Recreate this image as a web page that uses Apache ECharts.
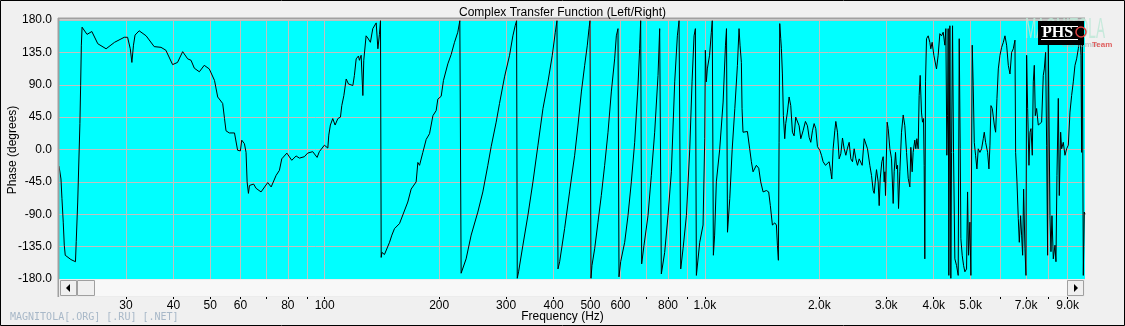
<!DOCTYPE html>
<html>
<head>
<meta charset="utf-8">
<script src="https://cdn.jsdelivr.net/npm/echarts@6/dist/echarts.min.js"></script>
<style>
html,body{margin:0;padding:0;background:#f0f0f0;}
#chart{width:1125px;height:326px;}
</style>
</head>
<body>
<div id="chart"></div>
<script>
// ---- data (frequency in Hz, phase in degrees) ----
const freqBass = [20.0,20.24,20.36,20.52,20.65,20.77,21.5,22.1,22.2,22.4,22.7,22.8,22.9,23.0,23.7,24.4,25.3,26.6,28.0,29.7,30.3,30.8,31.1,31.4,31.7,32.5,33.9,35.6,37.1,38.2,39.8,41.0,42.3,43.6,44.5,45.4,46.8,48.2,49.7,51.3,52.3,53.9,54.5,55.0,56.1];
const phaseBass = [-23,-41,-68,-101,-133,-147,-153,-156,-128,-73,36,89,145,170,160,164,147,140,149,156,156,140,121,145,159,165,158,143,142,138,118,121,136,126,124,113,108,117,112,96,73,64,43,26,23];

const freqLow = [57.9,59.0,60.0,60.5,61.5,62.1,62.5,63.0,63.4,65.0,66.0,68.0,70.8,72.3,74.5,76.0,77.1,79.5,81.9,84.1,85.8,88.4,90.2,93.0,95.5,96.8,99.8,101.9,102.5,103.5,105.0,106.5,108.3,110.0,110.9,112.3,113.9,115.5,118.6,119.7,121.0,122.7,123.4,124.7,126.0,126.7,128.5,129.8,131.9,133.8,136.6,138.0,139.3,140.2,140.8,141.4,143.6,148.1,150.2,152.6,157.3];
const phaseLow = [23,-1,-2,13,8,-4,-45,-61,-50,-48,-54,-59,-46,-52,-36,-29,-13,-5,-15,-9,-12,-10,-5,-3,-11,-3,6,2,20,34,43,34,43,45,61,75,98,91,89,103,126,130,124,131,75,124,158,155,149,168,176,140,160,179,-150,-143,-146,-129,-119,-110,-103];

const freqLowMid = [160.5,165.4,168.8,174.0,175.8,177.6,181.2,184.9,188.7,192.6,196.4,198.4,202.5,205.3,210.8,215.1,219.5,223.9,226.7,228.5,235.5,242.8,252.8,260.6,268.6,274.1,282.5,288.3,297.2,306.4,312.6,317.0,319.7,321.0,323.6,332.2,342.5,353.0,363.9,375.1,386.6,396.9,404.2,408.3,410.8,415.0,427.6,440.7];
const phaseLowMid = [-91,-73,-55,-45,-18,-22,-4,14,22,47,54,70,74,96,119,132,149,163,179,-172,-152,-119,-87,-59,-22,4,38,64,101,131,158,172,179,-179,-170,-133,-91,-45,6,57,94,131,163,179,-166,-156,-110,-59];

const freqMid = [445.4,454.5,463.8,473.3,482.9,490.7,495.7,498.7,501.7,504.8,513.0,523.4,534.1,545.0,556.2,567.5,579.1,585.0,590.9,594.5,600.5,615.3,627.8,640.6,653.7,667.0,673.7,677.9,682.0,691.7,708.7,723.1,737.9,753.0,760.6,768.3,784.0,800.0,816.4,833.1,846.6,855.3,864.0,876.2,894.2,912.5,925.4,936.7,944.3,950.0,969.4,989.2,999.3,1003,1009,1015,1029,1040,1046,1053,1061,1072,1094,1117,1133,1140,1147,1163,1180,1199,1218,1230];
const phaseMid = [-41,-8,34,80,117,145,168,179,-179,-161,-138,-101,-64,-22,24,80,126,158,168,-177,-156,-129,-92,-45,10,89,140,179,-159,-133,-92,-36,24,103,168,-173,-143,-92,-31,94,158,179,-166,-138,-92,0,94,158,168,-175,-129,-105,15,138,94,112,131,163,179,-147,-119,-45,0,66,145,168,-115,-68,0,57,117,168];

const freqUpperMid = [1237.5,1247.6,1252.6,1260,1273,1294,1312,1325.5,1339,1366,1386,1402.6,1423,1451.6,1472,1487,1505.5,1527,1542.6,1552,1561,1567.6,1574,1583.6,1590,1599.7,1609,1622.4,1632,1649,1665.7,1682.6,1699.7,1717,1734,1752,1770,1788,1813,1839,1861.6,1880.5,1899.6,1919,1938.5,1958,1978,2006,2026.6,2047,2076.4,2101.7,2123,2144.6,2157.6,2175,2197,2210.6,2233,2255.7,2278.6,2301.8,2325,2348.8,2372.6,2396.7,2421,2445.6,2470.4,2495.5,2520.8,2546.5,2572,2593,2625,2651.5,2678,2716.5,2744,2772,2789,2811,2828.5,2857,2874.6,2892,2921.4,2945,2963,2975,2987,3017,3036,3066.6,3097.7,3129,3148,3173.6,3193,3212.4,3232,3258,3291,3324.6,3358,3392.5,3427,3461.8];
const phaseUpperMid = [145,121,57,24,26,25,1,-17,-31,-22,-26,-45,-59,-57,-59,-78,-105,-102,-105,-133,-154,10,175,154,140,105,47,15,36,52,73,61,24,19,45,47,33,15,26,39,33,17,10,26,36,29,4,-1,-8,-17,-22,-20,-17,-31,-41,1,26,39,24,-13,-6,16,1,-8,2,10,-13,-17,1,-13,-22,-13,-15,-22,15,17,1,-22,-36,-57,-61,-41,-28,-45,-78,-41,-17,-10,-45,-31,-64,38,29,1,-13,-75,-31,-4,-27,-22,-82,-31,24,48,33,-4,-40,-52];

const freqHigh = [3482,3510,3531,3567,3589,3611,3640,3662,3685,3714,3737,3760,3775,3790,3806,3829,3868,3907,3930,3962,4003,4068,4109,4151,4193,4236,4279,4305,4331,4349,4366,4384,4411,4437,4456,4483,4510,4546,4592,4639,4668,4696,4715,4753,4792,4831,4880,4910,4940,4980,5010,5051,5081,5113,5154,5196,5238,5292,5345,5400,5433,5477,5544,5589,5623,5657,5703,5773,5820,5867,5915,5975,6035,6097,6158,6221,6284,6348,6412,6477,6543,6569,6623,6676,6717,6771,6812,6854,6895,6951,6994,7022,7065,7122,7165,7209,7267,7311,7356,7400,7460,7536,7612,7690,7767,7815,7878,7926,7974,8007,8088,8137,8186,8253,8337,8387,8438,8507,8558,8628,8680,8768,8858,8947,9038,9130,9222,9316,9411,9506,9603,9700,9759,9799,9838,9898,9958,10000];
const phaseHigh = [3,-31,-4,13,1,15,1,75,103,52,38,43,-22,-152,94,154,158,149,140,149,131,112,131,161,158,163,145,168,-8,47,168,-175,172,-179,-4,172,-4,-152,-161,-175,154,1,-124,-147,-161,-170,-166,-59,-147,-101,-175,145,89,10,-8,-27,1,-4,1,15,24,10,-4,-27,6,61,57,34,24,71,112,131,142,149,158,145,117,105,135,140,152,-4,-45,-96,-129,-92,-119,-147,-55,-138,-175,131,57,-22,24,29,-8,94,117,47,57,34,34,38,103,112,135,6,-147,149,-92,-142,-92,-152,-133,-156,-36,71,-64,24,1,10,-8,1,6,52,75,94,117,126,140,158,131,-4,168,-175,-87,-90];

// axis ticks / labels
const gridFreqs = [30,40,50,60,70,80,90,100,200,300,400,500,600,700,800,900,1000,2000,3000,4000,5000,6000,7000,8000,9000];
const labelFreqs = [30,40,50,60,80,100,200,300,400,500,600,800,1000,2000,3000,4000,5000,7000,9000];

// ---- build series ----
const freqAll = [].concat(freqBass, freqLow, freqLowMid, freqMid, freqUpperMid, freqHigh);
const phaseAll = [].concat(phaseBass, phaseLow, phaseLowMid, phaseMid, phaseUpperMid, phaseHigh);
const curve = freqAll.map((f, i) => [f, phaseAll[i]]);

const FONT = 'Liberation Sans, Arial, sans-serif';
const chart = echarts.init(document.getElementById('chart'), null, {renderer: 'canvas'});

function fmtFreq(v) {
  const f = Math.round(Math.pow(10, v));
  return f >= 1000 ? (f / 1000).toFixed(1) + 'k' : String(f);
}

chart.setOption({
  animation: false,
  backgroundColor: '#f0f0f0',
  title: {
    text: 'Complex Transfer Function (Left/Right)',
    left: 'center', top: 2,
    textStyle: {fontSize: 12, fontWeight: 'normal', color: '#000', fontFamily: FONT}
  },
  grid: {
    left: 59, top: 20, width: 1026, height: 259,
    show: true, backgroundColor: '#00ffff', borderWidth: 0,
    containLabel: false, outerBoundsMode: 'none'
  },
  xAxis: [
    {type: 'log', logBase: 10, min: 20, max: 10000, show: false, axisLine: {onZero: false}},
    {
      type: 'value', min: Math.log10(20), max: 4, position: 'bottom', offset: 17,
      axisLine: {show: false, onZero: false},
      axisTick: {show: true, length: 3, inside: false, customValues: gridFreqs.map(Math.log10), lineStyle: {color: '#000'}},
      axisLabel: {customValues: labelFreqs.map(Math.log10), formatter: fmtFreq, color: '#000', fontSize: 12, margin: 4, fontFamily: FONT},
      splitLine: {show: true, lineStyle: {color: '#c0c0c0', width: 1}}
    }
  ],
  yAxis: {
    type: 'value', min: -180, max: 180, interval: 45,
    axisLine: {show: false, onZero: false}, axisTick: {show: false},
    axisLabel: {formatter: v => v.toFixed(1), color: '#000', fontSize: 12, margin: 7, fontFamily: FONT},
    splitLine: {show: true, lineStyle: {color: '#c0c0c0', width: 1}}
  },
  series: [{
    type: 'line', xAxisIndex: 0, yAxisIndex: 0, data: curve,
    showSymbol: false, symbol: 'none', silent: true,
    lineStyle: {color: '#000', width: 1}, clip: true
  }],
  graphic: [
    {type: 'rect', z: 0, shape: {x: 0.5, y: 0.5, width: 1124, height: 325}, style: {fill: 'none', stroke: '#000', lineWidth: 1}},
    {type: 'line', z: 5, shape: {x1: 58, y1: 18.5, x2: 1085, y2: 18.5}, style: {stroke: '#a0a0a0', lineWidth: 2}},
    {type: 'line', z: 5, shape: {x1: 58.5, y1: 18, x2: 58.5, y2: 297}, style: {stroke: '#a0a0a0', lineWidth: 2}},
    {type: 'rect', z: 5, shape: {x: 59.5, y: 279.5, width: 1025, height: 17}, style: {fill: '#f8f8f8', stroke: '#ececec', lineWidth: 1}},
    {type: 'rect', z: 6, shape: {x: 60.5, y: 280.5, width: 16, height: 15}, style: {fill: '#f0f0f0', stroke: '#a0a0a0', lineWidth: 1}},
    {type: 'polygon', z: 7, shape: {points: [[66, 288], [70, 284], [70, 292]]}, style: {fill: '#000'}},
    {type: 'rect', z: 6, shape: {x: 77.5, y: 280.5, width: 17, height: 15}, style: {fill: '#f0f0f0', stroke: '#a0a0a0', lineWidth: 1}},
    {type: 'rect', z: 6, shape: {x: 1067.5, y: 280.5, width: 16, height: 15}, style: {fill: '#f0f0f0', stroke: '#a0a0a0', lineWidth: 1}},
    {type: 'polygon', z: 7, shape: {points: [[1078, 288], [1074, 284], [1074, 292]]}, style: {fill: '#000'}},
    {type: 'text', z: 5, x: 13, y: 150, rotation: Math.PI / 2, style: {text: 'Phase (degrees)', fontSize: 12, fill: '#000', fontFamily: FONT, textAlign: 'center', textVerticalAlign: 'middle'}},
    {type: 'text', z: 5, left: 'center', top: 311, style: {text: 'Frequency (Hz)', fontSize: 12, fill: '#000', fontFamily: FONT}},
    {type: 'text', z: 5, left: 10, top: 312, style: {text: 'MAGNITOLA[.ORG] [.RU] [.NET]', fontSize: 10, fill: '#a8b8c8', fontFamily: 'DejaVu Sans Mono, monospace'}},
    // logo
    {type: 'text', z: 50, x: 1025, y: 15, scaleX: 0.47, style: {text: 'MAGNITOLA', fontSize: 29, fill: 'rgba(190,232,215,0.85)', fontFamily: FONT}},
    {type: 'text', z: 50, x: 1062, y: 41, style: {text: 'Cardamin', fontSize: 8, fontWeight: 'bold', fill: 'rgba(170,170,170,0.6)', fontFamily: FONT}},
    {type: 'text', z: 52, x: 1092, y: 41, style: {text: 'Team', fontSize: 8, fontWeight: 'bold', fill: '#e06060', fontFamily: FONT}},
    {type: 'rect', z: 51, shape: {x: 1038, y: 21, width: 46, height: 24}, style: {fill: '#000'}},
    {type: 'line', z: 52, shape: {x1: 1041, y1: 26.5, x2: 1078, y2: 26.5}, style: {stroke: '#fff', lineWidth: 1}},
    {type: 'line', z: 52, shape: {x1: 1041, y1: 39.5, x2: 1078, y2: 39.5}, style: {stroke: '#fff', lineWidth: 1}},
    {type: 'text', z: 52, x: 1042, y: 25, style: {text: 'PHS', fontSize: 16, fontWeight: 'bold', fill: '#fff', fontFamily: 'Liberation Serif, DejaVu Serif, serif'}},
    {type: 'circle', z: 53, shape: {cx: 1081, cy: 32, r: 5}, style: {fill: 'none', stroke: '#e04040', lineWidth: 1.5}}
  ]
});
</script>
</body>
</html>
